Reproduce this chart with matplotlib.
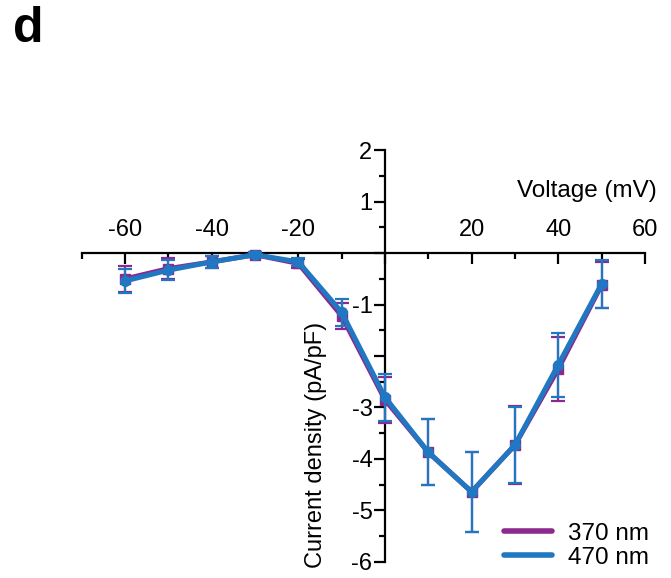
import matplotlib.pyplot as plt
from matplotlib.lines import Line2D
from matplotlib.ticker import MultipleLocator, FuncFormatter

plt.rcParams['font.family'] = ['Liberation Sans', 'DejaVu Sans']

# Data
voltage = [-60, -50, -40, -30, -20, -10, 0, 10, 20, 30, 40, 50]
cur_370 = [-0.50, -0.30, -0.17, -0.03, -0.20, -1.22, -2.85, -3.87, -4.64, -3.73, -2.25, -0.62]
err_370 = [0.25, 0.20, 0.12, 0.05, 0.08, 0.25, 0.45, 0.64, 0.78, 0.75, 0.62, 0.45]
cur_470 = [-0.54, -0.33, -0.17, -0.03, -0.17, -1.15, -2.80, -3.87, -4.64, -3.73, -2.17, -0.60]
err_470 = [0.24, 0.20, 0.12, 0.05, 0.08, 0.26, 0.46, 0.64, 0.78, 0.74, 0.62, 0.47]
y_labels_hidden = [0, -2]

purple = '#8B2A8E'
blue = '#1F78C1'

fig = plt.figure(figsize=(6.71, 5.78), dpi=100)
ax = fig.add_axes([0.122, 0.028, 0.839, 0.712])

ax.errorbar(voltage, cur_370, yerr=err_370, color=purple, lw=3.6, marker='s', ms=7,
            capsize=5, capthick=1.6, elinewidth=1.6, zorder=3)
ax.errorbar(voltage, cur_470, yerr=err_470, color=blue, lw=3.6, marker='o', ms=7,
            capsize=5, capthick=1.6, elinewidth=1.6, zorder=4)

ax.set_xlim(-70, 60)
ax.set_ylim(-6, 2)

# axes crossing at the origin
ax.spines['bottom'].set_visible(False)
ax.spines['right'].set_visible(False)
ax.spines['top'].set_position(('data', 0))
ax.spines['left'].set_position(('data', 0))
for s in ['top', 'left']:
    ax.spines[s].set_linewidth(1.6)

ax.xaxis.tick_top()
ax.xaxis.set_major_locator(MultipleLocator(20))
ax.xaxis.set_minor_locator(MultipleLocator(10))
ax.yaxis.set_major_locator(MultipleLocator(1))
ax.yaxis.set_minor_locator(MultipleLocator(0.5))

ax.xaxis.set_major_formatter(FuncFormatter(
    lambda v, p: '' if abs(v) < 1e-9 else str(int(round(v)))))
ax.yaxis.set_major_formatter(FuncFormatter(
    lambda v, p: '' if int(round(v)) in y_labels_hidden else str(int(round(v)))))

ax.tick_params(axis='x', which='major', direction='in', length=8, width=1.6,
               labelsize=17, pad=9)
ax.tick_params(axis='x', which='minor', direction='in', length=4, width=1.6)
ax.tick_params(axis='y', which='major', direction='out', length=8, width=1.6,
               labelsize=17, pad=1)
ax.tick_params(axis='y', which='minor', direction='out', length=4, width=1.6)

ax.text(62.8, 1.2, 'Voltage (mV)', fontsize=17.5, ha='right', va='center')
ax.text(-16.0, -6.12, 'Current density (pA/pF)', fontsize=17, rotation=90,
        ha='center', va='bottom')

handles = [Line2D([], [], color=purple, lw=4, solid_capstyle='round'),
           Line2D([], [], color=blue, lw=4, solid_capstyle='round')]
ax.legend(handles, ['370 nm', '470 nm'], loc='lower right', frameon=False,
          fontsize=17.5, handlelength=2.0, handletextpad=0.65, labelspacing=0.08,
          borderaxespad=0.0, bbox_to_anchor=(1.025, -0.04))

fig.text(0.02, 0.99, 'd', fontsize=36, fontweight='bold', va='top')

fig.savefig('out.png', dpi=100)
